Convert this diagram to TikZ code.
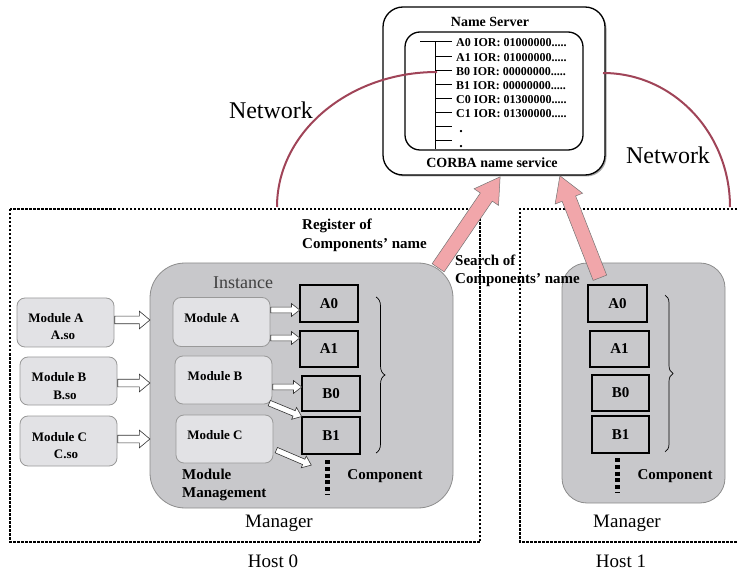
\documentclass[tikz,border=0pt]{standalone}
\usepackage{fontspec}
\setmainfont{Liberation Serif}
\usetikzlibrary{shapes.arrows,decorations.pathreplacing,calc}
\definecolor{netred}{RGB}{160,68,88}
\definecolor{mgrfill}{RGB}{200,200,203}
\definecolor{modfill}{RGB}{226,226,229}
\definecolor{pinkfill}{RGB}{241,166,170}
\newcommand\fsz[1]{\fontsize{#1}{#1}\selectfont}
\newcommand\fszb[2]{\fontsize{#1}{#2}\selectfont}
\newcommand\blockarrow[3]{%
  \path let \p1=($#3-#2$), \n1={veclen(\x1,\y1)} in #2 -- #3
    node[pos=0, sloped, allow upside down, anchor=tail, single arrow, inner xsep=0, minimum height=\n1, #1] {};}
\begin{document}
\begin{tikzpicture}[x=1pt,y=-1pt,
  hostline/.style={line width=1.1pt, dash pattern=on 2.5pt off 1.5pt},
  netline/.style={line width=2pt, draw=netred},
  mgr/.style={draw=black!45, fill=mgrfill, line width=0.8pt, rounded corners=#1, inner sep=0},
  modbox/.style={draw=black!40, fill=modfill, line width=0.8pt, rounded corners=8, inner sep=0},
  comp/.style={draw=black, fill=mgrfill, line width=1.2pt, inner sep=0, font=\fsz{15}\bfseries},
  modlbl/.style={font=\fsz{13}\bfseries, inner sep=0},
  lbl/.style={font=\fsz{15}\bfseries, inner sep=0},
  big/.style={font=\fsz{19}, inner sep=0},
  ior/.style={font=\fsz{12}\bfseries, inner sep=0, anchor=west},
  bighollow/.style={draw=black!80, fill=white, line width=0.6pt, inner ysep=3.5pt, single arrow head extend=5pt, single arrow tip angle=80},
  smallhollow/.style={draw=black!80, fill=white, line width=0.6pt, inner ysep=2.6pt, single arrow head extend=3.5pt, single arrow tip angle=76},
  pinkarrow/.style={draw=black!55, fill=pinkfill, line width=0.5pt, inner ysep=7pt, single arrow head extend=7.5pt, single arrow tip angle=62},
  dotcol/.style={line width=5pt, dash pattern=on 4pt off 2.8pt},
  bracestyle/.style={decorate, decoration={brace, amplitude=#1}, line width=0.7pt}
]
\useasboundingbox (0,0) rectangle (737,572);

% hosts
\coordinate (h0nw) at (10,209); \coordinate (h0se) at (480,542);
\draw[hostline] (h0nw) rectangle (h0se);
\coordinate (h1a) at (737,209); \coordinate (h1b) at (520,209);
\coordinate (h1c) at (520,542); \coordinate (h1d) at (737,542);
\draw[hostline] (h1a) -- (h1b) -- (h1c) -- (h1d);

% name server
\node[fill=black!35, rounded corners=20, minimum width=222, minimum height=168, inner sep=0] at (495.5,92.5) {};
\node[draw, fill=white, line width=1.3pt, rounded corners=20, minimum width=222, minimum height=168, inner sep=0] (ns) at (494,91) {};
\node[draw, line width=1.3pt, rounded corners=15, minimum width=178, minimum height=118, inner sep=0] (nsin) at (494,91) {};
\node[lbl, font=\fsz{14}\bfseries] (nstitle) at (490,22) {Name Server};
\node[lbl, font=\fsz{14}\bfseries] (corba) at (492,163) {CORBA name service};

\coordinate (t0) at (420,42); \coordinate (t1) at (452,42);
\coordinate (tv) at (435,42); \coordinate (tb) at (435,149);
\draw[line width=1pt] (t0) -- (t1);
\draw[line width=1pt] (tv) -- (tb);
\foreach \yy in {57,71,85,99,113,127,141} \draw[line width=1pt] (435,\yy) -- (452,\yy);
\node[ior] (r1) at (456,43) {A0 IOR: 01000000.....};
\node[ior] (r2) at (456,57.5) {A1 IOR: 01000000.....};
\node[ior] (r3) at (456,71.5) {B0 IOR: 00000000.....};
\node[ior] (r4) at (456,86) {B1 IOR: 00000000.....};
\node[ior] (r5) at (456,100) {C0 IOR: 01300000.....};
\node[ior] (r6) at (456,114) {C1 IOR: 01300000.....};
\node[font=\fsz{14}\bfseries, inner sep=0, anchor=base] (d1) at (461,133) {.};
\node[font=\fsz{14}\bfseries, inner sep=0, anchor=base] (d2) at (461,148) {.};

% network arcs
\coordinate (netL) at (277,207);
\draw[netline] (netL) arc[start angle=180, end angle=270, x radius=160, y radius=135];
\coordinate (netR) at (603,73);
\draw[netline] (netR) arc[start angle=-90, end angle=0, x radius=127, y radius=134];
\node[font=\fsz{24}, inner sep=0] (netLlbl) at (271,110) {Network};
\node[font=\fsz{24}, inner sep=0] (netRlbl) at (668,155) {Network};

% managers
\node[mgr=35, minimum width=303, minimum height=245] (M0) at (301.5,385.5) {};
\node[mgr=25, minimum width=163, minimum height=240] (M1) at (643.5,383) {};
\node[font=\fsz{18}, text=black!75, inner sep=0] (inst) at (243,283) {Instance};

% outer modules
\node[modbox, minimum width=97, minimum height=49] (MA) at (65.5,322.5) {};
\node[modbox, minimum width=97, minimum height=48] (MB) at (68.5,381) {};
\node[modbox, minimum width=97, minimum height=50] (MC) at (68.5,441) {};
\node[modlbl] at (56,318) {Module A};
\node[modlbl] at (63,335) {A.so};
\node[modlbl] at (59,377) {Module B};
\node[modlbl] at (65,395) {B.so};
\node[modlbl] at (59.5,437) {Module C};
\node[modlbl] at (66,454) {C.so};

% inner modules
\node[modbox, minimum width=97, minimum height=49] (IA) at (221.5,322) {};
\node[modbox, minimum width=97, minimum height=48] (IB) at (223.5,380) {};
\node[modbox, minimum width=97, minimum height=48] (IC) at (224.5,439) {};
\node[modlbl] at (212,318) {Module A};
\node[modlbl] at (215,376) {Module B};
\node[modlbl] at (215,435) {Module C};

% components host 0
\node[comp, minimum width=58, minimum height=37] (A0) at (329,303.5) {A0};
\node[comp, minimum width=58, minimum height=36] (A1) at (329,349) {A1};
\node[comp, minimum width=58, minimum height=35] (B0) at (331,393.5) {B0};
\node[comp, minimum width=58, minimum height=37] (B1) at (331,435.5) {B1};
\coordinate (dot0a) at (327,460); \coordinate (dot0b) at (327,495);
\draw[dotcol] (dot0a) -- (dot0b);
\coordinate (br0a) at (376,297); \coordinate (br0b) at (376,453);
\draw[bracestyle=9pt] (br0a) -- (br0b);
\node[lbl] (comp0) at (385,476) {Component};
\node[inner sep=0, align=left, anchor=west, font=\fszb{15}{18}\bfseries] (mm) at (182,485) {Module\\Management};

% components host 1
\node[comp, minimum width=59, minimum height=37] (hA0) at (617.5,303.5) {A0};
\node[comp, minimum width=59, minimum height=36] (hA1) at (619.5,349) {A1};
\node[comp, minimum width=57, minimum height=36] (hB0) at (620.5,393) {B0};
\node[comp, minimum width=57, minimum height=37] (hB1) at (620.5,434.5) {B1};
\coordinate (dot1a) at (617,458); \coordinate (dot1b) at (617,493);
\draw[dotcol] (dot1a) -- (dot1b);
\coordinate (br1a) at (665,295); \coordinate (br1b) at (665,452);
\draw[bracestyle=8pt] (br1a) -- (br1b);
\node[lbl] (comp1) at (675,476) {Component};

% hollow arrows: outer modules -> manager
\blockarrow{bighollow}{(MA.east |- 0,320)}{(M0.west |- 0,320)}
\blockarrow{bighollow}{(MB.east |- 0,383)}{(M0.west |- 0,383)}
\blockarrow{bighollow}{(MC.east |- 0,439)}{(M0.west |- 0,439)}

% hollow arrows: inner modules -> components
\blockarrow{smallhollow}{(IA.east |- 0,310)}{(A0.west |- 0,310)}
\blockarrow{smallhollow}{(IA.east |- 0,338)}{(A1.west |- 0,338)}
\blockarrow{smallhollow}{(IB.east |- 0,387)}{(B0.west |- 0,387)}
\coordinate (ib2) at (269,403);
\blockarrow{smallhollow}{(ib2)}{(B1.north west)}
\coordinate (ic1) at (276,450); \coordinate (ic1e) at (311,465);
\blockarrow{smallhollow}{(ic1)}{(ic1e)}

% pink arrows
\coordinate (pk1) at (438,268); \coordinate (pk1t) at (500,177);
\blockarrow{pinkarrow}{(pk1)}{(pk1t)}
\coordinate (pk2) at (600,278); \coordinate (pk2t) at (560,176);
\blockarrow{pinkarrow}{(pk2)}{(pk2t)}

% labels
\node[inner sep=0, align=left, anchor=west, font=\fszb{15}{19}\bfseries] (reg) at (302,235.5) {Register of\\Components' name};
\node[inner sep=0, align=left, anchor=west, font=\fszb{15}{18}\bfseries] (srch) at (455,271) {Search of\\Components' name};
\node[big] (man0) at (279,523) {Manager};
\node[big] (man1) at (627,523) {Manager};
\node[big] (host0) at (273,561) {Host 0};
\node[big] (host1) at (621,561) {Host 1};
\end{tikzpicture}
\end{document}
